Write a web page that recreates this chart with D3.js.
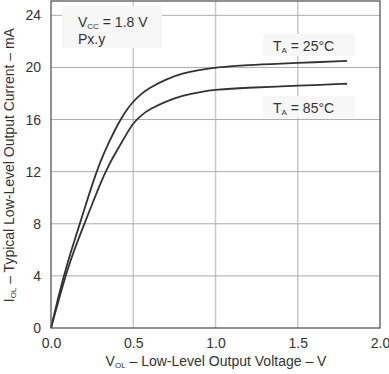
<!DOCTYPE html>
<html>
<head>
<meta charset="utf-8">
<script src="https://cdn.jsdelivr.net/npm/d3@7"></script>
<style>
  body { margin: 0; background: #fff; }
  text { font-family: "Liberation Sans", Arial, sans-serif; fill: #333; }
</style>
</head>
<body>
<div id="container"></div>
<script>
const WIDTH = 389, HEIGHT = 374;

// data
const voltage = [0, 0.05, 0.1, 0.15, 0.2, 0.25, 0.3, 0.35, 0.4, 0.45, 0.5, 0.55, 0.6, 0.7, 0.8, 0.9, 1.0, 1.2, 1.4, 1.6, 1.8];
const current25 = [0, 2.7, 5.0, 7.0, 9.0, 11.0, 12.8, 14.2, 15.5, 16.6, 17.4, 18.0, 18.45, 19.1, 19.55, 19.8, 20.0, 20.2, 20.3, 20.4, 20.5];
const current85 = [0, 2.3, 4.5, 6.3, 7.9, 9.5, 11.1, 12.5, 13.6, 14.7, 15.75, 16.35, 16.8, 17.4, 17.85, 18.1, 18.3, 18.45, 18.55, 18.65, 18.75];
const xTicks = [0, 0.5, 1.0, 1.5, 2.0];
const yTicks = [0, 4, 8, 12, 16, 20, 24];

const margin = { left: 51, right: 9, top: 1, bottom: 46 };

const svg = d3.select("#container")
  .append("svg")
  .attr("width", WIDTH)
  .attr("height", HEIGHT);

const xScale = d3.scaleLinear()
  .domain([0, 2])
  .range([margin.left, WIDTH - margin.right]);

const yScale = d3.scaleLinear()
  .domain([0, 25.1])
  .range([HEIGHT - margin.bottom, margin.top]);

// Grid
svg.append("g")
  .selectAll("line")
  .data(xTicks.slice(1, -1))
  .join("line")
  .attr("x1", d => xScale(d)).attr("x2", d => xScale(d))
  .attr("y1", yScale.range()[0]).attr("y2", yScale.range()[1])
  .style("stroke", "#c8c8c8").style("stroke-width", 1.5);

svg.append("g")
  .selectAll("line")
  .data(yTicks.slice(1))
  .join("line")
  .attr("x1", xScale.range()[0]).attr("x2", xScale.range()[1])
  .attr("y1", d => yScale(d)).attr("y2", d => yScale(d))
  .style("stroke", "#ababab").style("stroke-width", 1);

// Label backgrounds (mask grid)
svg.append("rect").attr("x", 62).attr("y", 6).attr("width", 100).attr("height", 42).style("fill", "#f7f7f7");
svg.append("rect").attr("x", 263).attr("y", 34).attr("width", 92).attr("height", 22).style("fill", "#f7f7f7");
svg.append("rect").attr("x", 263).attr("y", 96).attr("width", 92).attr("height", 22).style("fill", "#f7f7f7");

// Axes
svg.append("g")
  .attr("class", "x-axis")
  .attr("transform", `translate(0,${yScale.range()[0]})`)
  .call(d3.axisBottom(xScale).tickValues(xTicks).tickFormat(d3.format(".1f")).tickSize(0).tickPadding(10))
  .call(g => g.select(".domain").remove())
  .selectAll("text").style("font-size", "14px").style("fill", "#333");

svg.append("g")
  .attr("class", "y-axis")
  .attr("transform", `translate(${xScale.range()[0]},0)`)
  .call(d3.axisLeft(yScale).tickValues(yTicks).tickSize(0).tickPadding(10))
  .call(g => g.select(".domain").remove())
  .selectAll("text").style("font-size", "14px").style("fill", "#333");

// Curves
const line = d3.line()
  .x(d => xScale(d[0]))
  .y(d => yScale(d[1]))
  .curve(d3.curveBasis);

[current25, current85].forEach(series => {
  svg.append("path")
    .datum(voltage.map((v, i) => [v, series[i]]))
    .attr("d", line)
    .style("fill", "none")
    .style("stroke", "#333")
    .style("stroke-width", 1.8);
});

// Frame
svg.append("rect")
  .attr("x", xScale.range()[0]).attr("y", yScale.range()[1])
  .attr("width", xScale.range()[1] - xScale.range()[0])
  .attr("height", yScale.range()[0] - yScale.range()[1])
  .style("fill", "none").style("stroke", "#555").style("stroke-width", 1.3);

// Annotations
const vcc = svg.append("text").attr("x", 78).attr("y", 27).style("font-size", "14px");
vcc.append("tspan").text("V");
vcc.append("tspan").text("CC").style("font-size", "8px").attr("dy", 2);
vcc.append("tspan").text(" = 1.8 V").attr("dy", -2);
svg.append("text").attr("x", 78).attr("y", 44).style("font-size", "14px").text("Px.y");

function tempLabel(y, t) {
  const el = svg.append("text").attr("x", 273).attr("y", y).style("font-size", "14px");
  el.append("tspan").text("T");
  el.append("tspan").text("A").style("font-size", "8px").attr("dy", 2);
  el.append("tspan").text(` = ${t}°C`).attr("dy", -2);
}
tempLabel(51, 25);
tempLabel(113, 85);

// Axis titles
const xt = svg.append("text").attr("x", 216).attr("y", 366).attr("text-anchor", "middle").style("font-size", "14px");
xt.append("tspan").text("V");
xt.append("tspan").text("OL").style("font-size", "8px").attr("dy", 2);
xt.append("tspan").text(" – Low-Level Output Voltage – V").attr("dy", -2);

const yt = svg.append("text")
  .attr("transform", `translate(14,${yScale(12.5)}) rotate(-90)`)
  .attr("text-anchor", "middle").style("font-size", "14px");
yt.append("tspan").text("I");
yt.append("tspan").text("OL").style("font-size", "8px").attr("dy", 2);
yt.append("tspan").text(" – Typical Low-Level Output Current – mA").attr("dy", -2);
</script>
</body>
</html>
